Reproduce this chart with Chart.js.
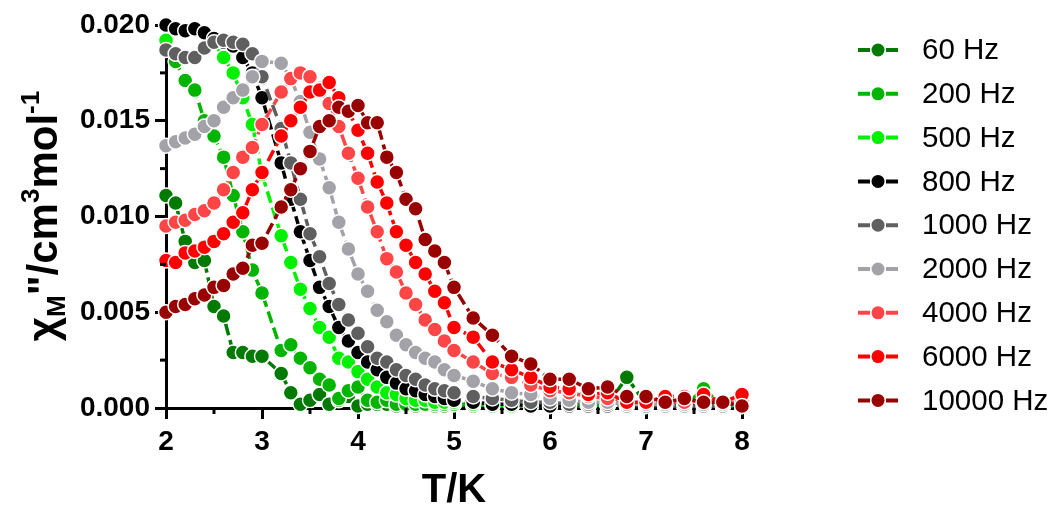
<!DOCTYPE html>
<html>
<head>
<meta charset="utf-8">
<script src="https://cdn.jsdelivr.net/npm/chart.js@4.4.1/dist/chart.umd.min.js"></script>
<style>
  html, body { margin: 0; padding: 0; background: #fff; }
  canvas { display: block; }
</style>
</head>
<body>
<canvas id="chiChart" width="1057" height="506"></canvas>
<script>
// temperature points (K), shared by all frequencies
const temps = [2.0, 2.1, 2.2, 2.3, 2.4, 2.5, 2.6, 2.7, 2.8, 2.9, 3.0,
  3.2, 3.3, 3.4, 3.5, 3.6, 3.7, 3.8, 3.9, 4.0, 4.1, 4.2, 4.3, 4.4, 4.5, 4.6, 4.7, 4.8, 4.9, 5.0,
  5.2, 5.4, 5.6, 5.8, 6.0, 6.2, 6.4, 6.6, 6.8, 7.0, 7.2, 7.4, 7.6, 7.8, 8.0];

// chi'' (cm3/mol) for each ac frequency
const chi60 = [0.0111, 0.0107, 0.0087, 0.0076, 0.0077, 0.0053, 0.0048, 0.0029, 0.0029, 0.0027, 0.0027,
  0.0018, 0.0008, 0.0002, 0.0004, 0.0007, 0.0002, 0.0004, 0.0006, 0.0001, 0.0002, 0.0002, 0.0002, 0.0001, 0.0002, 0.0001, 0.0002, 0.0001, 0.0001, 0.0002,
  0.0001, 0.0002, 0.0001, 0.0001, 0.0002, 0.0001, 0.0001, 0.0002, 0.0016, 0.0002, 0.0001, 0.0002, 0.0004, 0.0001, 0.0002];
const chi200 = [0.0190, 0.0181, 0.0171, 0.0166, 0.0150, 0.0142, 0.0131, 0.0111, 0.0092, 0.0072, 0.0060,
  0.0030, 0.0033, 0.0026, 0.0021, 0.0015, 0.0012, 0.0005, 0.0009, 0.0011, 0.0004, 0.0003, 0.0004, 0.0002, 0.0002, 0.0002, 0.0002, 0.0002, 0.0002, 0.0002,
  0.0002, 0.0001, 0.0001, 0.0001, 0.0001, 0.0001, 0.0002, 0.0001, 0.0004, 0.0001, 0.0001, 0.0001, 0.0010, 0.0001, 0.0002];
const chi500 = [0.0192, 0.0185, 0.0183, 0.0183, 0.0188, 0.0191, 0.0183, 0.0175, 0.0162, 0.0148, 0.0122,
  0.0090, 0.0076, 0.0062, 0.0052, 0.0042, 0.0037, 0.0026, 0.0024, 0.0019, 0.0015, 0.0011, 0.0008, 0.0007, 0.0005, 0.0004, 0.0004, 0.0003, 0.0003, 0.0003,
  0.0002, 0.0002, 0.0001, 0.0001, 0.0001, 0.0001, 0.0001, 0.0001, 0.0001, 0.0001, 0.0001, 0.0001, 0.0001, 0.0001, 0.0001];
const chi800 = [0.0200, 0.0198, 0.0197, 0.0198, 0.0196, 0.0193, 0.0191, 0.0189, 0.0183, 0.0175, 0.0162,
  0.0128, 0.0109, 0.0092, 0.0077, 0.0063, 0.0053, 0.0042, 0.0035, 0.0029, 0.0024, 0.0020, 0.0016, 0.0013, 0.0010, 0.0009, 0.0007, 0.0006, 0.0005, 0.0004,
  0.0003, 0.0002, 0.0002, 0.0001, 0.0001, 0.0001, 0.0001, 0.0001, 0.0001, 0.0001, 0.0001, 0.0001, 0.0001, 0.0001, 0.0001];
const chi1000 = [0.0187, 0.0185, 0.0183, 0.0183, 0.0188, 0.0191, 0.0192, 0.0191, 0.0190, 0.0185, 0.0173,
  0.0146, 0.0128, 0.0109, 0.0091, 0.0079, 0.0065, 0.0054, 0.0046, 0.0039, 0.0032, 0.0026, 0.0024, 0.0020, 0.0017, 0.0015, 0.0012, 0.0010, 0.0009, 0.0008,
  0.0006, 0.0005, 0.0004, 0.0003, 0.0003, 0.0002, 0.0002, 0.0002, 0.0001, 0.0002, 0.0001, 0.0001, 0.0001, 0.0001, 0.0001];
const chi2000 = [0.0137, 0.0139, 0.0141, 0.0143, 0.0147, 0.0150, 0.0157, 0.0162, 0.0166, 0.0173, 0.0181,
  0.0180, 0.0172, 0.0160, 0.0144, 0.0130, 0.0115, 0.0097, 0.0083, 0.0070, 0.0061, 0.0051, 0.0045, 0.0038, 0.0033, 0.0029, 0.0026, 0.0024, 0.0020, 0.0017,
  0.0014, 0.0010, 0.0008, 0.0007, 0.0005, 0.0004, 0.0003, 0.0003, 0.0002, 0.0002, 0.0002, 0.0002, 0.0002, 0.0002, 0.0002];
const chi4000 = [0.0095, 0.0097, 0.0098, 0.0101, 0.0103, 0.0107, 0.0114, 0.0123, 0.0131, 0.0136, 0.0148,
  0.0165, 0.0172, 0.0175, 0.0173, 0.0167, 0.0159, 0.0147, 0.0133, 0.0120, 0.0105, 0.0092, 0.0078, 0.0071, 0.0060, 0.0054, 0.0046, 0.0041, 0.0035, 0.0030,
  0.0024, 0.0018, 0.0016, 0.0012, 0.0009, 0.0008, 0.0006, 0.0005, 0.0004, 0.0004, 0.0003, 0.0003, 0.0004, 0.0003, 0.0003];
const chi6000 = [0.0077, 0.0076, 0.0081, 0.0082, 0.0084, 0.0087, 0.0091, 0.0097, 0.0102, 0.0114, 0.0123,
  0.0142, 0.0150, 0.0157, 0.0165, 0.0166, 0.0170, 0.0162, 0.0155, 0.0145, 0.0133, 0.0118, 0.0107, 0.0092, 0.0085, 0.0076, 0.0070, 0.0061, 0.0055, 0.0042,
  0.0037, 0.0024, 0.0020, 0.0016, 0.0011, 0.0010, 0.0007, 0.0008, 0.0003, 0.0003, 0.0006, 0.0006, 0.0007, 0.0003, 0.0007];
const chi10000 = [0.0050, 0.0053, 0.0054, 0.0057, 0.0059, 0.0063, 0.0064, 0.0070, 0.0073, 0.0085, 0.0086,
  0.0105, 0.0114, 0.0125, 0.0134, 0.0147, 0.0150, 0.0157, 0.0155, 0.0158, 0.0149, 0.0149, 0.0131, 0.0123, 0.0109, 0.0104, 0.0088, 0.0082, 0.0076, 0.0063,
  0.0047, 0.0038, 0.0027, 0.0023, 0.0015, 0.0015, 0.0010, 0.0011, 0.0006, 0.0006, 0.0003, 0.0005, 0.0003, 0.0003, 0.0001];

const freqs = ['60 Hz', '200 Hz', '500 Hz', '800 Hz', '1000 Hz', '2000 Hz', '4000 Hz', '6000 Hz', '10000 Hz'];
const series = [chi60, chi200, chi500, chi800, chi1000, chi2000, chi4000, chi6000, chi10000];
const colors = ['#007a00', '#00b400', '#00f000', '#000000', '#5f5f5f', '#a2a2a8', '#ff4545', '#ff0000', '#990000'];

const xTicks = [2, 3, 4, 5, 6, 7, 8];
const yTicks = [0, 0.005, 0.010, 0.015, 0.020];

const FONT = 'Arial, "Liberation Sans", sans-serif';

// minor ticks, axis titles and the side legend
const extras = {
  id: 'extras',
  afterDraw(chart) {
    const ctx = chart.ctx;
    const xs = chart.scales.x, ys = chart.scales.y;
    ctx.save();

    ctx.strokeStyle = '#000';
    ctx.lineWidth = 3;
    [0.0025, 0.0075, 0.0125, 0.0175].forEach(v => {
      const y = ys.getPixelForValue(v);
      ctx.beginPath(); ctx.moveTo(xs.left - 6, y); ctx.lineTo(xs.left, y); ctx.stroke();
    });
    [2.5, 3.5, 4.5, 5.5, 6.5, 7.5].forEach(t => {
      const x = xs.getPixelForValue(t);
      ctx.beginPath(); ctx.moveTo(x, ys.bottom); ctx.lineTo(x, ys.bottom + 6); ctx.stroke();
    });

    // x title
    ctx.fillStyle = '#000';
    ctx.font = 'bold 40px ' + FONT;
    ctx.textAlign = 'center';
    ctx.textBaseline = 'alphabetic';
    ctx.fillText('T/K', (xs.left + xs.right) / 2, 502);

    // y title with sub/superscripts, rotated
    const s = 42;
    const parts = [
      { t: 'χ', k: 1, dy: 0 },
      { t: 'M', k: 0.62, dy: 0.2 },
      { t: '"', k: 1, dy: 0 },
      { t: '/cm', k: 1, dy: 0 },
      { t: '3', k: 0.62, dy: -0.42 },
      { t: 'mol', k: 1, dy: 0 },
      { t: '-1', k: 0.62, dy: -0.42 }
    ];
    let total = 0;
    parts.forEach(p => {
      ctx.font = 'bold ' + Math.round(s * p.k) + 'px ' + FONT;
      p.w = ctx.measureText(p.t).width;
      total += p.w;
    });
    ctx.translate(57, 216 + total / 2);
    ctx.rotate(-Math.PI / 2);
    ctx.textAlign = 'left';
    let cx = 0;
    parts.forEach(p => {
      ctx.font = 'bold ' + Math.round(s * p.k) + 'px ' + FONT;
      ctx.fillText(p.t, cx, p.dy * s);
      cx += p.w;
    });
    ctx.setTransform(1, 0, 0, 1, 0, 0);

    // legend
    chart.data.datasets.forEach((ds, i) => {
      const y = 50 + i * 43.8;
      ctx.strokeStyle = ds.borderColor;
      ctx.lineWidth = 4;
      ctx.beginPath();
      ctx.moveTo(858, y); ctx.lineTo(870, y);
      ctx.moveTo(886, y); ctx.lineTo(898, y);
      ctx.stroke();
      ctx.beginPath();
      ctx.arc(878, y, 6.5, 0, Math.PI * 2);
      ctx.fillStyle = ds.backgroundColor;
      ctx.fill();
      ctx.fillStyle = '#000';
      ctx.font = '29.5px ' + FONT;
      ctx.textAlign = 'left';
      ctx.textBaseline = 'middle';
      ctx.fillText(ds.label, 922, y + 1);
    });

    ctx.restore();
  }
};

new Chart(document.getElementById('chiChart'), {
  type: 'scatter',
  data: {
    datasets: series.map((vals, i) => ({
      label: freqs[i],
      data: temps.map((t, j) => ({ x: t, y: vals[j] })),
      showLine: true,
      borderColor: colors[i],
      backgroundColor: colors[i],
      borderWidth: 3.5,
      borderDash: [12, 5],
      pointRadius: 7.5,
      pointHoverRadius: 7.5,
      pointBorderColor: '#fff',
      pointBorderWidth: 1.5,
      pointBackgroundColor: colors[i],
      clip: false,
      order: -i
    }))
  },
  options: {
    responsive: false,
    animation: false,
    layout: { padding: { top: 25, right: 315, left: 0, bottom: 0 } },
    plugins: { legend: { display: false }, tooltip: { enabled: false } },
    scales: {
      x: {
        type: 'linear',
        min: 2, max: 8,
        afterBuildTicks: sc => { sc.ticks = xTicks.map(v => ({ value: v })); },
        afterFit: sc => { sc.height = 98; },
        border: { display: true, color: '#000', width: 3 },
        grid: { drawOnChartArea: false, drawTicks: true, tickLength: 11, tickWidth: 3, tickColor: '#000' },
        ticks: {
          maxRotation: 0, autoSkip: false, padding: 6, color: '#000',
          font: { family: FONT, size: 28, weight: 'bold' },
          callback: v => String(v)
        }
      },
      y: {
        type: 'linear',
        min: 0, max: 0.020,
        afterBuildTicks: sc => { sc.ticks = yTicks.map(v => ({ value: v })); },
        afterFit: sc => { sc.width = 166; },
        border: { display: true, color: '#000', width: 3 },
        grid: { drawOnChartArea: false, drawTicks: true, tickLength: 11, tickWidth: 3, tickColor: '#000' },
        ticks: {
          autoSkip: false, padding: 5, color: '#000',
          font: { family: FONT, size: 28, weight: 'bold' },
          callback: v => v.toFixed(3)
        }
      }
    }
  },
  plugins: [extras]
});
</script>
</body>
</html>
